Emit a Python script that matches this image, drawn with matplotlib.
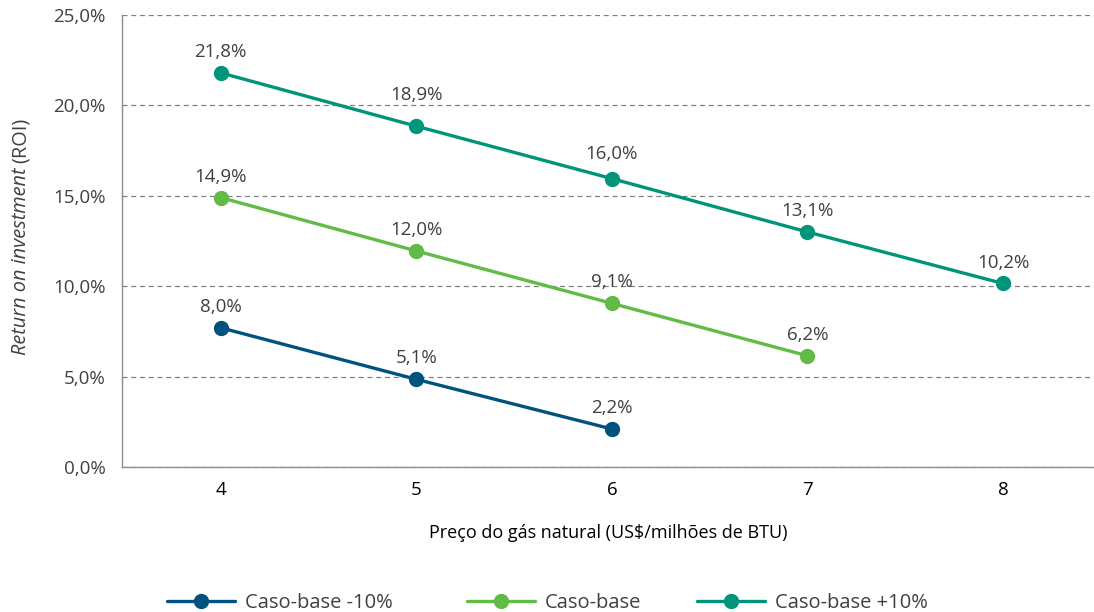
import matplotlib
matplotlib.use("Agg")
import matplotlib.pyplot as plt
from matplotlib.ticker import FuncFormatter

plt.rcParams['font.family'] = ['Open Sans', 'DejaVu Sans']

prices = [4, 5, 6, 7, 8]
series_names = ["Caso-base -10%", "Caso-base", "Caso-base +10%"]
minus10_values = [7.7, 4.85, 2.1]
minus10_labels = ["8,0%", "5,1%", "2,2%"]
base_values = [14.9, 11.95, 9.05, 6.15]
base_labels = ["14,9%", "12,0%", "9,1%", "6,2%"]
plus10_values = [21.8, 18.85, 15.95, 13.0, 10.15]
plus10_labels = ["21,8%", "18,9%", "16,0%", "13,1%", "10,2%"]
colors = ["#00527F", "#62BB46", "#00957A"]

# extra vertical nudges (points) for a few data labels, as in the original layout
extra_offset = {"18,9%": 7, "16,0%": 2.5}

fig = plt.figure(figsize=(10.94, 6.12), dpi=100)
ax = fig.add_axes([122/1094, 1-467/612, 1-122/1094, (467-15)/612])

all_vals = [minus10_values, base_values, plus10_values]
all_labels = [minus10_labels, base_labels, plus10_labels]
handles = []
for name, vals, labs, c in zip(series_names, all_vals, all_labels, colors):
    xs = prices[:len(vals)]
    h, = ax.plot(xs, vals, color=c, lw=2.4, marker='o', markersize=10, label=name,
                 solid_capstyle='round', zorder=3)
    handles.append(h)
    for x, v, l in zip(xs, vals, labs):
        ax.annotate(l, (x, v), xytext=(0, 11.5 + extra_offset.get(l, 0)),
                    textcoords='offset points', ha='center', va='baseline',
                    fontsize=13.5, color='#404040')

ax.set_xlim(3.495, 8.465)
ax.set_ylim(0, 25)
ax.set_yticks([0, 5, 10, 15, 20, 25])
ax.yaxis.set_major_formatter(FuncFormatter(lambda v, p: f"{v:.1f}%".replace('.', ',')))
ax.set_xticks(prices)
ax.grid(axis='y', linestyle=(0, (4, 3)), color='#808080', lw=0.9)
ax.set_axisbelow(True)
for s in ['top', 'right']:
    ax.spines[s].set_visible(False)
for s in ['left', 'bottom']:
    ax.spines[s].set_color('#8c8c8c')
    ax.spines[s].set_linewidth(1.0)
ax.tick_params(axis='both', length=0, labelsize=13.5)
ax.tick_params(axis='y', colors='#404040', pad=12)
ax.tick_params(axis='x', colors='black', pad=10)
ax.set_xlabel("Preço do gás natural (US$/milhões de BTU)", fontsize=13, color='black')
ax.xaxis.set_label_coords(0.5, -(524-467)/452)

# y label: italic part + regular part
t1 = fig.text(31/1094, 1-355/612, "Return on investment", rotation=90, style='italic',
              ha='right', va='bottom', fontsize=14.3, color='#404040')
fig.canvas.draw()
bb = t1.get_window_extent(renderer=fig.canvas.get_renderer())
fig.text(31/1094, (bb.y1 + 5)/612, "(ROI)", rotation=90,
         ha='right', va='bottom', fontsize=14.3, color='#404040')

legend_x = [167, 467, 697]
for h, x0 in zip(handles, legend_x):
    leg = fig.legend(handles=[h], loc='center left', bbox_to_anchor=(x0/1094, 1-603/612),
                     frameon=False, fontsize=14.5, handlelength=3.4, handletextpad=0.45,
                     borderpad=0, borderaxespad=0)
    for t in leg.get_texts():
        t.set_color('#404040')

fig.savefig("out.png", dpi=100)
